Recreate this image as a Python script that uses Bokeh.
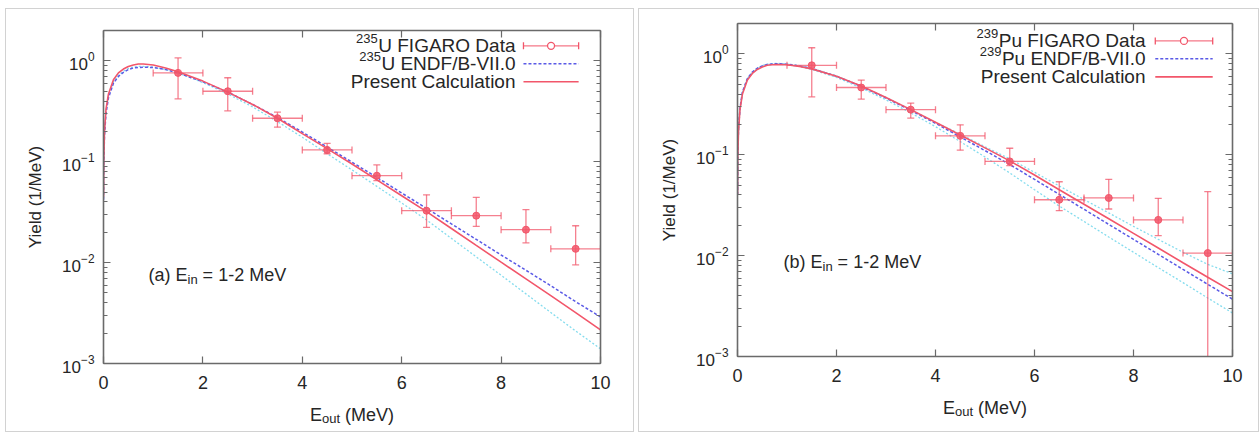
from bokeh.plotting import figure
from bokeh.models import Range1d, LinearAxis, LogAxis, Label, SingleIntervalTicker, LogTicker
from bokeh.layouts import row, column
from bokeh.embed import file_html
from bokeh.resources import INLINE
import math

# ---------------- data ----------------
curve_x = [0.001, 0.005, 0.02, 0.05, 0.1, 0.2, 0.3, 0.4, 0.5, 0.6, 0.7, 0.8, 1.0, 1.25, 1.5,
           2.0, 2.5, 3.0, 3.5, 4.0, 4.5, 5.0, 5.5, 6.0, 6.5, 7.0, 7.5, 8.0, 8.5, 9.0, 9.5, 10.0]

# panel (a) 235U
u_calc = [0.045, 0.10, 0.20, 0.33, 0.47, 0.65, 0.76, 0.83, 0.88, 0.91, 0.93, 0.93, 0.91, 0.85, 0.78,
          0.63, 0.49, 0.37, 0.27, 0.19, 0.135, 0.095, 0.066, 0.046, 0.032, 0.0218, 0.0148, 0.0101,
          0.0069, 0.0047, 0.0032, 0.00215]
u_endf = [0.042, 0.09, 0.18, 0.30, 0.43, 0.60, 0.70, 0.77, 0.82, 0.85, 0.86, 0.865, 0.86, 0.82, 0.76,
          0.62, 0.49, 0.37, 0.275, 0.197, 0.14, 0.099, 0.07, 0.049, 0.0345, 0.0242, 0.017, 0.0119,
          0.0084, 0.0059, 0.0041, 0.0029]
u_other = [0.044, 0.10, 0.20, 0.32, 0.45, 0.62, 0.72, 0.79, 0.84, 0.87, 0.88, 0.88, 0.87, 0.82, 0.76,
           0.61, 0.47, 0.35, 0.25, 0.175, 0.12, 0.083, 0.057, 0.039, 0.0265, 0.0174, 0.0114, 0.0075,
           0.0049, 0.0032, 0.0021, 0.0014]

# panel (b) 239Pu
pu_calc = [0.04, 0.09, 0.17, 0.28, 0.40, 0.55, 0.64, 0.70, 0.74, 0.77, 0.78, 0.785, 0.78, 0.75, 0.71,
           0.60, 0.48, 0.37, 0.28, 0.21, 0.157, 0.117, 0.087, 0.063, 0.045, 0.0323, 0.0232, 0.0166,
           0.0119, 0.0085, 0.0061, 0.0044]
pu_endf = [0.04, 0.09, 0.18, 0.29, 0.42, 0.57, 0.66, 0.72, 0.76, 0.785, 0.795, 0.80, 0.79, 0.76, 0.715,
           0.60, 0.475, 0.365, 0.275, 0.205, 0.15, 0.11, 0.08, 0.057, 0.0405, 0.0288, 0.0204, 0.0145,
           0.0103, 0.0073, 0.0052, 0.0037]
pu_upper = [0.042, 0.095, 0.18, 0.29, 0.42, 0.57, 0.66, 0.72, 0.765, 0.79, 0.80, 0.805, 0.795, 0.765, 0.72,
            0.605, 0.48, 0.37, 0.28, 0.21, 0.16, 0.12, 0.091, 0.067, 0.049, 0.036, 0.0265, 0.0195,
            0.0145, 0.0108, 0.0082, 0.0066]
pu_lower = [0.04, 0.088, 0.17, 0.28, 0.41, 0.56, 0.65, 0.71, 0.75, 0.775, 0.785, 0.79, 0.78, 0.75, 0.70,
            0.585, 0.46, 0.35, 0.26, 0.19, 0.135, 0.095, 0.066, 0.045, 0.031, 0.0218, 0.0153, 0.0108,
            0.0076, 0.0054, 0.0038, 0.0027]

# FIGARO data
fig_x = [1.5, 2.5, 3.5, 4.5, 5.5, 6.5, 7.5, 8.5, 9.5]
bin_lo = [1.0, 2.0, 3.0, 4.0, 5.0, 6.0, 7.0, 8.0, 9.0]
bin_hi = [2.0, 3.0, 4.0, 5.0, 6.0, 7.0, 8.0, 9.0, 10.0]
u_y = [0.76, 0.50, 0.27, 0.131, 0.0727, 0.0327, 0.0292, 0.0212, 0.0137]
u_hi = [1.07, 0.68, 0.31, 0.152, 0.093, 0.047, 0.0443, 0.0335, 0.0232]
u_lo = [0.42, 0.32, 0.22, 0.12, 0.065, 0.0224, 0.0229, 0.0157, 0.0095]
pu_y = [0.77, 0.464, 0.28, 0.154, 0.0859, 0.0358, 0.0373, 0.0226, 0.0106]
pu_hi = [1.15, 0.55, 0.325, 0.198, 0.116, 0.054, 0.057, 0.037, 0.043]
pu_lo = [0.375, 0.356, 0.231, 0.111, 0.078, 0.0279, 0.029, 0.0158, 0.0005]

x_ticks_interval = 2
y_min, y_max = 1e-3, 2.0

# ---------------- styles ----------------
FONT = "Liberation Sans"
TXT = "#262626"
AX = "#6a6a6a"
RED = "#f2566a"
BLUE = "#5a5ae6"
CYAN = "#84dcee"
BORDER = "1px solid #d2d2d2"

# Arial / Liberation Sans advance widths (em)
W = {' ': .278, '(': .333, ')': .333, 'a': .556, 'E': .667, 'i': .222, 'n': .556, 'o': .556, 'u': .556,
     't': .278, 'M': .833, 'e': .556, 'V': .667, 'U': .722, 'F': .611, 'I': .278, 'G': .778, 'A': .667,
     'R': .722, 'O': .778, 'D': .722, 'P': .667, 'N': .722, '/': .278, 'B': .667, '-': .333, '.': .278,
     '0': .556, '1': .556, '2': .556, '3': .556, '5': .556, '9': .556, '=': .584, 'b': .556, 'r': .333,
     's': .5, 'C': .722, 'l': .222, 'c': .5}


def tw(s, size):
    return sum(W.get(c, .556) for c in s) * size


def label(p, text, sx, y, size, align="left", baseline="alphabetic", y_units="screen"):
    p.add_layout(Label(x=sx, y=y, x_units="screen", y_units=y_units, text=text,
                       text_font=FONT, text_font_size=f"{size}px", text_color=TXT,
                       text_align=align, text_baseline=baseline))


def make_panel(w, h_main, h_lab, overlap, borders, cx, calc, endf, extra_curves, dy, dhi, dlo, tag, nucl, elem,
               leg_sx, leg_y, leg_x, ann_sx, ann_sy, xlab_sy):
    bl, br, bt, bb = borders
    p = figure(width=w, height=h_main, x_range=Range1d(0, 10), y_range=Range1d(y_min, y_max),
               y_axis_type="log", output_backend="svg", toolbar_location=None,
               min_border_left=bl, min_border_right=br, min_border_top=bt, min_border_bottom=bb)
    p.outline_line_color = None
    p.grid.visible = False
    p.background_fill_color = "white"
    p.border_fill_color = "white"

    p.add_layout(LinearAxis(), "above")
    p.add_layout(LogAxis(), "right")
    bottom, left, top, right = p.below[0], p.left[0], p.above[0], p.right[0]
    for ax in (bottom, top):
        ax.ticker = SingleIntervalTicker(interval=x_ticks_interval, num_minor_ticks=0)
    for ax in (left, right):
        ax.ticker = LogTicker(num_minor_ticks=10)
    for ax in (bottom, left, top, right):
        ax.axis_line_color = AX
        ax.axis_line_width = 1.6
        ax.major_tick_line_color = AX
        ax.minor_tick_line_color = AX
        ax.major_tick_line_width = 1.2
        ax.major_tick_in = 7
        ax.major_tick_out = 0
        ax.minor_tick_in = 4
        ax.minor_tick_out = 0
        ax.major_label_text_font = FONT
        ax.major_label_text_font_size = "17px"
        ax.major_label_text_color = TXT
    bottom.major_label_text_font_size = "18px"
    bottom.major_label_standoff = 12
    left.major_label_standoff = 9
    for ax in (top, right):
        ax.major_label_text_font_size = "1px"
        ax.major_label_text_alpha = 0
        ax.major_label_standoff = 0
    left.axis_label = "Yield (1/MeV)"
    left.axis_label_text_font = FONT
    left.axis_label_text_font_size = "17px"
    left.axis_label_text_font_style = "normal"
    left.axis_label_text_color = TXT
    left.axis_label_standoff = 14

    # curves
    for cy in extra_curves:
        p.line(cx, cy, line_color=CYAN, line_width=1.3, line_dash="2 2")
    p.line(cx, endf, line_color=BLUE, line_width=1.5, line_dash="3 2")
    p.line(cx, calc, line_color=RED, line_width=1.6)

    # data with error bars
    ekw = dict(line_color=RED, line_width=1.3, line_alpha=0.75)
    p.segment(bin_lo, dy, bin_hi, dy, **ekw)
    p.segment(fig_x, dlo, fig_x, dhi, **ekw)
    p.scatter(fig_x, dhi, marker="dash", size=7, **ekw)
    p.scatter(fig_x, dlo, marker="dash", size=7, **ekw)
    p.scatter(bin_lo, dy, marker="dash", angle=math.pi / 2, size=7, **ekw)
    p.scatter(bin_hi, dy, marker="dash", angle=math.pi / 2, size=7, **ekw)
    p.scatter(fig_x, dy, marker="circle", size=7, fill_color=RED, line_color=RED, fill_alpha=0.85)

    # legend (gnuplot style: text right-aligned, sample on right)
    fsz, ssz = 19, 13
    texts = [f"{elem} FIGARO Data", f"{elem} ENDF/B-VII.0", "Present Calculation"]
    for i, (t, ly) in enumerate(zip(texts, leg_y)):
        label(p, t, leg_sx, ly, fsz, align="right", baseline="middle", y_units="data")
        if i < 2:
            p.add_layout(Label(x=leg_sx - tw(t, fsz) - 0.5, y=ly, x_units="screen", y_units="data",
                               y_offset=7, text=nucl, text_font=FONT, text_font_size=f"{ssz}px",
                               text_color=TXT, text_align="right", text_baseline="middle"))
    lx0, lx1 = leg_x
    ly0, ly1, ly2 = leg_y
    p.line([lx0, lx1], [ly0, ly0], line_color=RED, line_width=1.3, line_alpha=0.8)
    p.scatter([lx0, lx1], [ly0, ly0], marker="dash", angle=math.pi / 2, size=7, line_color=RED, line_width=1.3)
    p.scatter([(lx0 + lx1) / 2], [ly0], marker="circle", size=7, fill_color="white", line_color=RED, line_width=1.3)
    p.line([lx0, lx1], [ly1, ly1], line_color=BLUE, line_width=1.5, line_dash="3 2")
    p.line([lx0, lx1], [ly2, ly2], line_color=RED, line_width=1.6)

    # annotation "(a) E_in = 1-2 MeV"
    asz, sub = 18, 13
    head = f"({tag}) E"
    label(p, head, ann_sx, ann_sy, asz)
    label(p, "in", ann_sx + tw(head, asz), ann_sy - 5, sub)
    label(p, "= 1-2 MeV", ann_sx + tw(head, asz) + tw("in", sub) + tw(" ", asz), ann_sy, asz)

    # x axis label "E_out (MeV)" in a transparent strip overlapping the bottom of the plot
    q = figure(width=w, height=h_lab, x_range=p.x_range, output_backend="svg", toolbar_location=None,
               x_axis_location=None, y_axis_location=None,
               min_border_left=bl, min_border_right=br, min_border_top=0, min_border_bottom=0)
    q.outline_line_color = None
    q.grid.visible = False
    q.background_fill_alpha = 0
    q.border_fill_alpha = 0
    q.styles = {"margin-top": f"-{overlap}px"}
    fw = w - bl - br
    xs, xsub = 18, 13
    total = tw("E", xs) + tw("out", xsub) + tw(" (MeV)", xs)
    x0 = fw / 2 - total / 2
    label(q, "E", x0, xlab_sy, xs)
    label(q, "out", x0 + tw("E", xs), xlab_sy - 4, xsub)
    label(q, "(MeV)", x0 + tw("E", xs) + tw("out", xsub) + tw(" ", xs), xlab_sy, xs)

    return column(p, q, spacing=0, styles={"border": BORDER})


panel_a = make_panel(627, 404, 40, 22, (97, 33, 21, 50), curve_x, u_calc, u_endf, [u_other],
                     u_y, u_hi, u_lo, "a", "235", "U",
                     412, (1.41, 0.934, 0.62), (8.45, 9.56), 45, 89, 17)
panel_b = make_panel(619, 397, 40, 15, (98, 26, 14, 50), curve_x, pu_calc, pu_endf, [pu_upper, pu_lower],
                     pu_y, pu_hi, pu_lo, "b", "239", "Pu",
                     408, (1.345, 0.892, 0.592), (8.44, 9.6), 46, 95, 24)

layout = row(panel_a, panel_b, spacing=4, styles={"margin-left": "5px", "margin-top": "8px"})
open("out.html", "w").write(file_html(layout, INLINE))
